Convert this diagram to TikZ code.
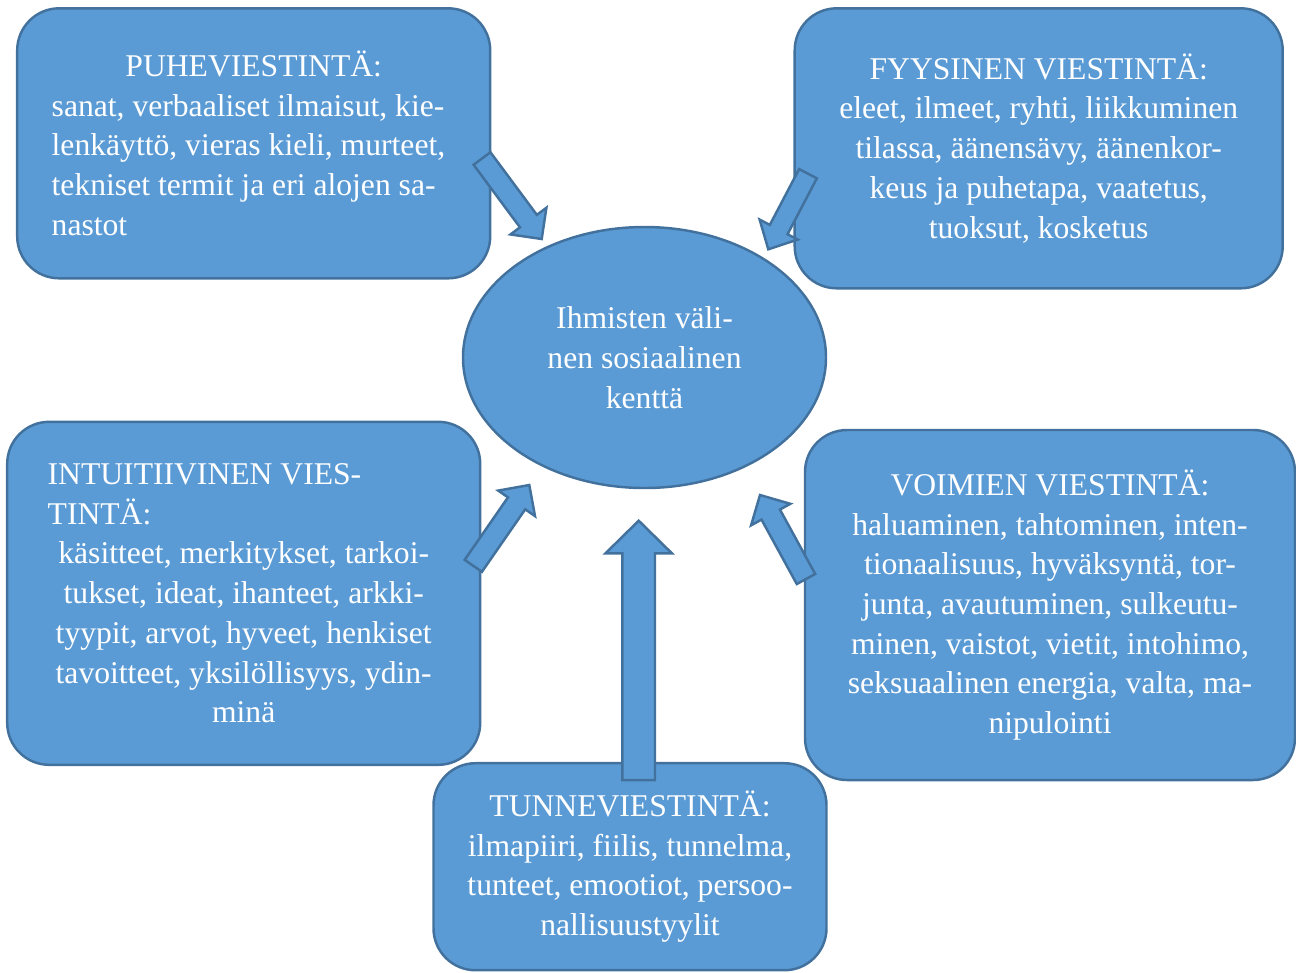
\documentclass[tikz,border=0pt]{standalone}
\usepackage{fontspec}
\setmainfont{Liberation Serif}
\usetikzlibrary{shapes,calc}
\definecolor{viestisini}{HTML}{5B9BD5}
\definecolor{viestireuna}{HTML}{41719C}

\begin{document}
\begin{tikzpicture}[
            viesti/.style={draw=viestireuna, fill=viestisini, line width=0.7pt, rounded corners=0.42cm, text=white, inner sep=0pt, font=\fontsize{9}{11.3}\selectfont},
            kentta/.style={ellipse, draw=viestireuna, fill=viestisini, line width=0.7pt, text=white, inner sep=0pt, align=center, font=\fontsize{9}{11.3}\selectfont},
            nuoli/.style={draw=viestireuna, fill=viestisini, line width=0.7pt, line join=miter}
        ]
            \useasboundingbox (0,0) rectangle (12.96,-9.72);

            \def\blocknuoli#1#2#3#4#5{%
                \coordinate (kaula) at ($(#2)!#5!(#1)$);
                \draw[nuoli] ($(#1)!#3!90:(#2)$) -- ($(kaula)!#3!90:(#2)$) -- ($(kaula)!#4!90:(#2)$) -- (#2)
                    -- ($(kaula)!#4!-90:(#2)$) -- ($(kaula)!#3!-90:(#2)$) -- ($(#1)!#3!-90:(#2)$) -- cycle;}

            \node[viesti, minimum width=4.73cm, minimum height=2.70cm, align=left] (puhe) at (2.537,-1.433)
                {\makebox[4.04cm]{PUHEVIESTINTÄ:}\\sanat, verbaaliset ilmaisut, kie-\\lenkäyttö, vieras kieli, murteet,\\tekniset termit ja eri alojen sa-\\nastot};
            \node[viesti, minimum width=4.88cm, minimum height=2.80cm, align=center] (fyysinen) at (10.387,-1.483)
                {FYYSINEN VIESTINTÄ:\\eleet, ilmeet, ryhti, liikkuminen\\tilassa, äänensävy, äänenkor-\\keus ja puhetapa, vaatetus,\\tuoksut, kosketus};
            \node[viesti, minimum width=4.73cm, minimum height=3.43cm, align=center] (intuitiivinen) at (2.437,-5.933)
                {\makebox[3.92cm][l]{INTUITIIVINEN VIES-}\\\makebox[3.92cm][l]{TINTÄ:}\\käsitteet, merkitykset, tarkoi-\\tukset, ideat, ihanteet, arkki-\\tyypit, arvot, hyveet, henkiset\\tavoitteet, yksilöllisyys, ydin-\\minä};
            \node[viesti, minimum width=4.90cm, minimum height=3.50cm, align=center] (voimien) at (10.50,-6.05)
                {VOIMIEN VIESTINTÄ:\\haluaminen, tahtominen, inten-\\tionaalisuus, hyväksyntä, tor-\\junta, avautuminen, sulkeutu-\\minen, vaistot, vietit, intohimo,\\seksuaalinen energia, valta, ma-\\nipulointi};
            \node[viesti, minimum width=3.93cm, minimum height=2.07cm, align=center] (tunne) at (6.30,-8.667)
                {TUNNEVIESTINTÄ:\\ilmapiiri, fiilis, tunnelma,\\tunteet, emootiot, persoo-\\nallisuustyylit};
            \node[kentta, minimum width=3.63cm, minimum height=2.61cm] (kentta) at (6.445,-3.575)
                {Ihmisten väli-\\nen sosiaalinen\\kenttä};

            \coordinate (puhe-a) at (4.82,-1.585);
            \coordinate (puhe-k) at (5.417,-2.39);
            \coordinate (fyysinen-a) at (8.08,-1.737);
            \coordinate (fyysinen-k) at (7.683,-2.493);
            \coordinate (intuitiivinen-a) at (4.733,-5.658);
            \coordinate (intuitiivinen-k) at (5.293,-4.85);
            \coordinate (voimien-a) at (8.06,-5.79);
            \coordinate (voimien-k) at (7.60,-4.95);
            \coordinate (tunne-a) at (6.387,-7.80);
            \coordinate (tunne-k) at (6.387,-5.207);

            \blocknuoli{puhe-a}{puhe-k}{0.105cm}{0.224cm}{0.223cm}
            \blocknuoli{fyysinen-a}{fyysinen-k}{0.100cm}{0.215cm}{0.223cm}
            \blocknuoli{intuitiivinen-a}{intuitiivinen-k}{0.105cm}{0.224cm}{0.223cm}
            \blocknuoli{voimien-a}{voimien-k}{0.105cm}{0.224cm}{0.223cm}
            \blocknuoli{tunne-a}{tunne-k}{0.163cm}{0.333cm}{0.327cm}
        \end{tikzpicture}
\end{document}
